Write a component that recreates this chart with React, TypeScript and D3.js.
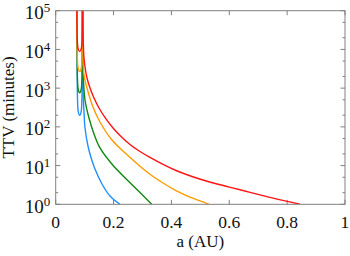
import { useEffect, useRef } from 'react'
import * as d3 from 'd3'

const WIDTH = 350
const HEIGHT = 256
const MARGIN = { top: 10.7, right: 5, bottom: 51.7, left: 55.7 }

// x ticks (AU) and y decades (10^n minutes)
const xTicks = [0, 0.2, 0.4, 0.6, 0.8, 1]
const xTickLabels = ['0', '0.2', '0.4', '0.6', '0.8', '1']
const yExponents = [0, 1, 2, 3, 4, 5]
const yMinorMantissas = [2, 5]

// inner "well" between the two vertical asymptotes, shared a-values
const wellA = [0.0728, 0.0736, 0.0748, 0.0775, 0.083, 0.0885, 0.0912, 0.0922, 0.0928]
const blueWell = [2e5, 1e4, 800, 260, 200, 260, 800, 1e4, 2e5]
const greenWell = [2e5, 1.5e4, 2200, 950, 760, 950, 2200, 1.5e4, 2e5]
const orangeWell = [2e5, 2.5e4, 6000, 3300, 2700, 3300, 6000, 2.5e4, 2e5]
const redWell = [2e5, 4e4, 1.6e4, 1.05e4, 8800, 1.05e4, 1.6e4, 4e4, 2e5]

// outer branch [a (AU), TTV (min)]
const blueTail: [number, number][] = [
  [0.093, 2e5], [0.0944, 895], [0.0978, 242], [0.1013, 93.5], [0.1116, 32], [0.122, 16.2],
  [0.1358, 8.16], [0.16, 3.35], [0.1877, 1.64], [0.2223, 1.0],
]
const greenTail: [number, number][] = [
  [0.093, 2e5], [0.0951, 2185], [0.1013, 494], [0.1151, 169], [0.1324, 65.4], [0.1531, 28.5],
  [0.197, 10.35], [0.2544, 3.77], [0.2914, 2.02], [0.3318, 1.0],
]
const orangeTail: [number, number][] = [
  [0.093, 2e5], [0.0951, 7180], [0.0978, 2185], [0.1082, 1009], [0.1289, 326], [0.1531, 133.6],
  [0.1946, 45.8], [0.2534, 17.2], [0.3225, 6.24], [0.3709, 3.55], [0.4158, 2.27], [0.4642, 1.54],
  [0.4988, 1.23], [0.53, 1.0],
]
const redTail: [number, number][] = [
  [0.093, 2e5], [0.0951, 17500], [0.0978, 6000], [0.103, 2940], [0.1082, 1830], [0.1186, 1009],
  [0.1324, 556], [0.1497, 307], [0.1739, 160], [0.1981, 93.5], [0.2223, 59.8], [0.2568, 35],
  [0.2914, 23.1], [0.326, 16.2], [0.3709, 10.7], [0.4158, 7.46], [0.4712, 5.22], [0.5264, 3.88],
  [0.5852, 2.97], [0.644, 2.3], [0.6993, 1.8], [0.758, 1.4], [0.8444, 1.0],
]

const series = [
  { color: '#1e90ff', well: blueWell, tail: blueTail },
  { color: '#108a10', well: greenWell, tail: greenTail },
  { color: '#ff9a00', well: orangeWell, tail: orangeTail },
  { color: '#ff1414', well: redWell, tail: redTail },
]

const FONT = "'Liberation Serif', 'Times New Roman', serif"
const FRAME = '#808080'

export default function App() {
  const svgRef = useRef<SVGSVGElement>(null)

  useEffect(() => {
    const svg = svgRef.current
    if (!svg) return
    const innerW = WIDTH - MARGIN.left - MARGIN.right
    const innerH = HEIGHT - MARGIN.top - MARGIN.bottom

    d3.select(svg).selectAll('*').remove()
    const root = d3.select(svg)
    const g = root.append('g').attr('transform', `translate(${MARGIN.left},${MARGIN.top})`)

    const x = d3.scaleLinear().domain([0, 1]).range([0, innerW])
    const y = d3.scaleLog().domain([1, 1e5]).range([innerH, 0])

    root.append('defs').append('clipPath').attr('id', 'plot-clip')
      .append('rect').attr('width', innerW).attr('height', innerH)

    // ticks, mirrored on all four sides, pointing inward
    const ticks = g.append('g').attr('stroke', FRAME).attr('stroke-width', 1)
    xTicks.forEach(t => {
      const px = x(t)
      ticks.append('line').attr('x1', px).attr('x2', px).attr('y1', innerH).attr('y2', innerH - 4.5)
      ticks.append('line').attr('x1', px).attr('x2', px).attr('y1', 0).attr('y2', 4.5)
    })
    yExponents.forEach(e => {
      const py = y(10 ** e)
      ticks.append('line').attr('x1', 0).attr('x2', 4.5).attr('y1', py).attr('y2', py)
      ticks.append('line').attr('x1', innerW).attr('x2', innerW - 4.5).attr('y1', py).attr('y2', py)
      if (e < 5) {
        yMinorMantissas.forEach(m => {
          const pm = y(m * 10 ** e)
          ticks.append('line').attr('x1', 0).attr('x2', 2.5).attr('y1', pm).attr('y2', pm)
          ticks.append('line').attr('x1', innerW).attr('x2', innerW - 2.5).attr('y1', pm).attr('y2', pm)
        })
      }
    })

    // curves
    const wellLine = d3.line<[number, number]>()
      .x(d => x(d[0]))
      .y(d => y(d[1]))
      .curve(d3.curveMonotoneX)
    const tailLine = d3.line<[number, number]>()
      .x(d => x(d[0]))
      .y(d => y(d[1]))
      .curve(d3.curveCatmullRom.alpha(0.5))

    const curves = g.append('g').attr('clip-path', 'url(#plot-clip)')
    series.forEach(s => {
      const wellPts = wellA.map((a, i) => [a, s.well[i]] as [number, number])
      curves.append('path').datum(wellPts)
        .attr('fill', 'none').attr('stroke', s.color).attr('stroke-width', 1.4).attr('d', wellLine)
      curves.append('path').datum(s.tail)
        .attr('fill', 'none').attr('stroke', s.color).attr('stroke-width', 1.4).attr('d', tailLine)
    })

    // frame
    g.append('rect').attr('width', innerW).attr('height', innerH)
      .attr('fill', 'none').attr('stroke', FRAME).attr('stroke-width', 1)

    // x tick labels
    xTicks.forEach((t, i) => {
      g.append('text').attr('x', x(t)).attr('y', innerH + 24)
        .attr('text-anchor', 'middle').style('font-family', FONT).style('font-size', '17.5px')
        .attr('fill', '#111').text(xTickLabels[i])
    })

    // y tick labels 10^n
    yExponents.forEach(e => {
      const t = g.append('text').attr('x', -5.5).attr('y', y(10 ** e) + 8.5)
        .attr('text-anchor', 'end').style('font-family', FONT).attr('fill', '#111')
      t.append('tspan').style('font-size', '19px').text('10')
      t.append('tspan').style('font-size', '13px').attr('dy', -7).text(String(e))
    })

    // axis titles
    g.append('text').attr('x', innerW / 2).attr('y', innerH + 43)
      .attr('text-anchor', 'middle').style('font-family', FONT).style('font-size', '17px')
      .attr('fill', '#111').text('a (AU)')
    g.append('text')
      .attr('transform', `translate(${14 - MARGIN.left},${innerH / 2}) rotate(-90)`)
      .attr('text-anchor', 'middle').style('font-family', FONT).style('font-size', '17px')
      .attr('fill', '#111').text('TTV (minutes)')
  }, [])

  return (
    <svg
      ref={svgRef}
      width={WIDTH}
      height={HEIGHT}
      style={{ position: 'absolute', left: 0, top: 0, background: '#fff' }}
    />
  )
}
